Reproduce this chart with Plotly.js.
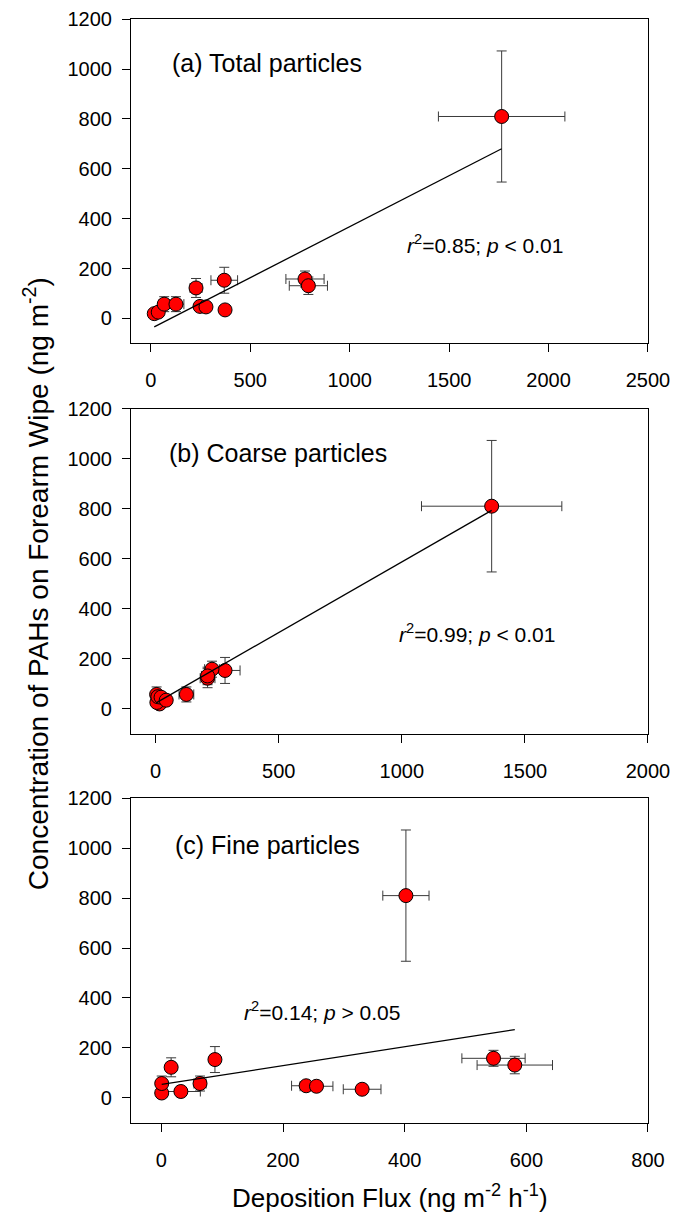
<!DOCTYPE html>
<html><head><meta charset="utf-8">
<script src="https://cdn.plot.ly/plotly-3.0.1.min.js"></script>
<style>html,body{margin:0;padding:0;background:#fff}</style>
</head><body><div id="chart" style="width:674px;height:1215px"></div>
<script>
// Concentration of PAHs on forearm wipe (ng m-2), one value per sample
const concentration    = [19, 25, 57, 57, 122, 153, 48, 46, 34, 158, 131, 810];
const concentrationErr = [8, 10, 30, 30, 38, 52, 10, 10, 8, 32, 35, 263];
// Deposition flux (ng m-2 h-1)
const totalFlux     = [17, 37, 67, 126, 227, 369, 247, 277, 373, 775, 792, 1764];
const totalFluxErr  = [8, 15, 25, 40, 30, 67, 15, 15, 12, 96, 96, 318];
const coarseFlux    = [16, 5, 4, 125, 211, 282, 9, 22, 43, 229, 211, 1365];
const coarseFluxErr = [5, 5, 5, 30, 30, 61, 5, 8, 10, 30, 25, 285];
const fineFlux      = [0.5, 32, 63.5, 0.5, 16, 88, 238, 255, 330, 546, 581, 402];
const fineFluxErr   = [1, 32, 10, 1, 5, 8, 24, 27, 31, 52, 62, 38];
// Regression fits
const fitSlope     = [0.409, 0.565, 0.379];
const fitIntercept = [-41, 22, 53];
const panelLabels = ['(a) Total particles', '(b) Coarse particles', '(c) Fine particles'];
const statLabels  = ['<i>r</i><sup>2</sup>=0.85; <i>p</i> &lt; 0.01',
                     '<i>r</i><sup>2</sup>=0.99; <i>p</i> &lt; 0.01',
                     '<i>r</i><sup>2</sup>=0.14; <i>p</i> &gt; 0.05'];
const xTicks = [[0,500,1000,1500,2000,2500],[0,500,1000,1500,2000],[0,200,400,600,800]];
const yTicks = [0,200,400,600,800,1000,1200];
const xTitle = 'Deposition Flux (ng m<sup>-2</sup> h<sup>-1</sup>)';
const yTitle = 'Concentration of PAHs on Forearm Wipe (ng m<sup>-2</sup>)';

const FONT = 'Liberation Sans, Arial, sans-serif';
const fluxes = [totalFlux, coarseFlux, fineFlux];
const fluxErrs = [totalFluxErr, coarseFluxErr, fineFluxErr];
const xRanges = [[-100,2500],[-100,2000],[-50,800]];
const yDomains = [[0.71745,0.98412],[0.39613,0.66362],[0.07597,0.34296]];
const xDomain = [0.19436, 0.96142];
const labelPos = [[0.0748,0.864],[0.0701,0.863],[0.0818,0.856]];
const statPos = [[0.530,0.3065],[0.515,0.309],[0.2146,0.345]];

const traces = [];
const layout = {
  width: 674, height: 1215, margin: {l:0,r:0,t:0,b:0},
  paper_bgcolor: '#fff', plot_bgcolor: '#fff', showlegend: false,
  font: {family: FONT, color: '#000'},
  annotations: []
};
for (let i = 0; i < 3; i++) {
  const sfx = i === 0 ? '' : String(i+1);
  const xa = 'x' + sfx, ya = 'y' + sfx;
  const xs = fluxes[i];
  const xmin = Math.min(...xs), xmax = Math.max(...xs);
  traces.push({
    type: 'scatter', mode: 'markers', x: xs, y: concentration, xaxis: xa, yaxis: ya,
    marker: {color: '#ff0000', size: 14, line: {color: '#000', width: 1}},
    error_x: {type: 'data', array: fluxErrs[i], visible: true, color: '#3a3a3a', thickness: 1, width: 5},
    error_y: {type: 'data', array: concentrationErr, visible: true, color: '#3a3a3a', thickness: 1, width: 5},
    hoverinfo: 'skip'
  });
  traces.push({
    type: 'scatter', mode: 'lines', x: [xmin, xmax],
    y: [fitIntercept[i] + fitSlope[i]*xmin, fitIntercept[i] + fitSlope[i]*xmax],
    xaxis: xa, yaxis: ya, line: {color: '#000', width: 1.3}, hoverinfo: 'skip'
  });
  const axCommon = {
    showline: true, mirror: true, linecolor: '#000', linewidth: 1,
    ticks: 'outside', ticklen: 8, tickcolor: '#000', tickwidth: 1,
    showgrid: false, zeroline: false, fixedrange: true,
    tickfont: {family: FONT, size: 20, color: '#000'}
  };
  layout['xaxis' + sfx] = Object.assign({}, axCommon, {
    domain: xDomain, range: xRanges[i], anchor: ya, tickmode: 'array',
    tickvals: xTicks[i], ticktext: xTicks[i].map(String), ticklabelstandoff: 11
  });
  layout['yaxis' + sfx] = Object.assign({}, axCommon, {
    domain: yDomains[i], range: [-100, 1200], anchor: xa, tickmode: 'array',
    tickvals: yTicks, ticktext: yTicks.map(String), ticklabelstandoff: 6
  });
  layout.annotations.push({
    xref: xa + ' domain', yref: ya + ' domain', x: labelPos[i][0], y: labelPos[i][1],
    xanchor: 'left', yanchor: 'middle', showarrow: false, text: panelLabels[i],
    font: {family: FONT, size: 25, color: '#000'}
  });
  layout.annotations.push({
    xref: xa + ' domain', yref: ya + ' domain', x: statPos[i][0], y: statPos[i][1],
    xanchor: 'left', yanchor: 'middle', showarrow: false, text: statLabels[i],
    font: {family: FONT, size: 21, color: '#000'}
  });
}
layout.annotations.push({
  xref: 'paper', yref: 'paper', x: 0.5779, y: 0.0152, xanchor: 'center', yanchor: 'middle',
  showarrow: false, text: xTitle, font: {family: FONT, size: 26, color: '#000'}
});
layout.annotations.push({
  xref: 'paper', yref: 'paper', x: 0.0534, y: 0.52, xanchor: 'center', yanchor: 'middle',
  textangle: -90, showarrow: false, text: yTitle, font: {family: FONT, size: 28, color: '#000'}
});
Plotly.newPlot('chart', traces, layout, {displayModeBar: false, staticPlot: true});
</script></body></html>
